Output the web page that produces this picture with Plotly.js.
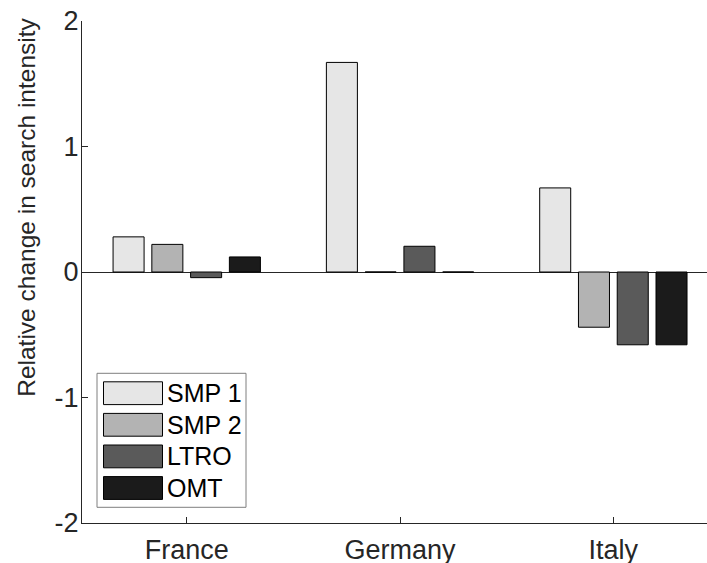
<!DOCTYPE html>
<html>
<head>
<meta charset="utf-8">
<script src="https://cdn.plot.ly/plotly-3.0.1.min.js"></script>
<style>
  html, body { margin: 0; padding: 0; background: #ffffff; }
  #chart { width: 707px; height: 563px; }
</style>
</head>
<body>
<div id="chart"></div>
<script>
// Countries on the x axis
const countries = ['France', 'Germany', 'Italy'];

// Policy announcements (one bar series each)
const seriesNames = ['SMP 1', 'SMP 2', 'LTRO', 'OMT'];
const seriesColors = ['#e6e6e6', '#b3b3b3', '#5a5a5a', '#1b1b1b'];

// Relative change in search intensity, per country
const smp1 = [0.28, 1.67, 0.67];
const smp2 = [0.22, 0.0, -0.44];
const ltro = [-0.045, 0.205, -0.58];
const omt  = [0.12, 0.0, -0.58];

const yTicks = [-2, -1, 0, 1, 2];
const yTitle = 'Relative change in search intensity';

const seriesValues = [smp1, smp2, ltro, omt];
const ink = '#262626';
const fontFamily = '"Liberation Sans", Arial, Helvetica, sans-serif';

const traces = seriesNames.map((name, i) => ({
  type: 'bar',
  name: name,
  x: countries,
  y: seriesValues[i],
  marker: { color: seriesColors[i], line: { color: '#000000', width: 1 } },
  showlegend: false,
  hoverinfo: 'x+y+name'
}));

// Helpers to place boxed legend and axis title in paper coordinates
const plotLeft = 82, plotWidth = 625, plotBottom = 522.7, plotHeight = 502;
const px = v => (v - plotLeft) / plotWidth;
const py = v => (plotBottom - v) / plotHeight;

const shapes = [{
  type: 'rect', xref: 'paper', yref: 'paper',
  x0: px(97), x1: px(246), y0: py(507), y1: py(373),
  line: { color: '#7f7f7f', width: 1 }, fillcolor: '#ffffff', layer: 'above'
}];
const annotations = [{
  xref: 'paper', yref: 'paper',
  x: px(27), y: py(207.5),
  xanchor: 'center', yanchor: 'middle', showarrow: false,
  textangle: -90,
  text: yTitle, font: { family: fontFamily, size: 24.5, color: ink }
}];
const rowTop = 381.5, rowPitch = 31.6, swatchH = 22.8;
seriesNames.forEach((name, i) => {
  const top = rowTop + i * rowPitch;
  shapes.push({
    type: 'rect', xref: 'paper', yref: 'paper',
    x0: px(103.5), x1: px(162.5), y0: py(top + swatchH), y1: py(top),
    line: { color: '#000000', width: 1 }, fillcolor: seriesColors[i], layer: 'above'
  });
  annotations.push({
    xref: 'paper', yref: 'paper',
    x: px(165), y: py(top + swatchH / 2),
    xanchor: 'left', yanchor: 'middle', showarrow: false,
    text: name, font: { family: fontFamily, size: 25, color: '#000000' }
  });
});

const layout = {
  width: 707,
  height: 563,
  margin: { l: 82, r: 0, t: 20.7, b: 40.3, pad: 0 },
  paper_bgcolor: '#ffffff',
  plot_bgcolor: '#ffffff',
  font: { family: fontFamily, color: ink },
  barmode: 'group',
  bargap: 0.273,
  bargroupgap: 0.2,
  xaxis: {
    type: 'category',
    range: [-0.491, 2.439],
    showline: true, linecolor: ink, linewidth: 1, mirror: false,
    ticks: 'inside', ticklen: 6, tickcolor: ink, tickwidth: 1,
    showgrid: false, zeroline: false,
    tickfont: { family: fontFamily, size: 27, color: ink },
    ticklabelstandoff: 3
  },
  yaxis: {
    range: [-2, 2],
    tickvals: yTicks,
    ticktext: yTicks.map(String),
    showline: true, linecolor: ink, linewidth: 1, mirror: false,
    ticks: 'inside', ticklen: 6, tickcolor: ink, tickwidth: 1,
    showgrid: false,
    zeroline: true, zerolinecolor: ink, zerolinewidth: 1,
    tickfont: { family: fontFamily, size: 27, color: ink },
    ticklabelstandoff: -3
  },
  shapes: shapes,
  annotations: annotations,
  showlegend: false
};

Plotly.newPlot('chart', traces, layout, { displayModeBar: false, staticPlot: true });
</script>
</body>
</html>
